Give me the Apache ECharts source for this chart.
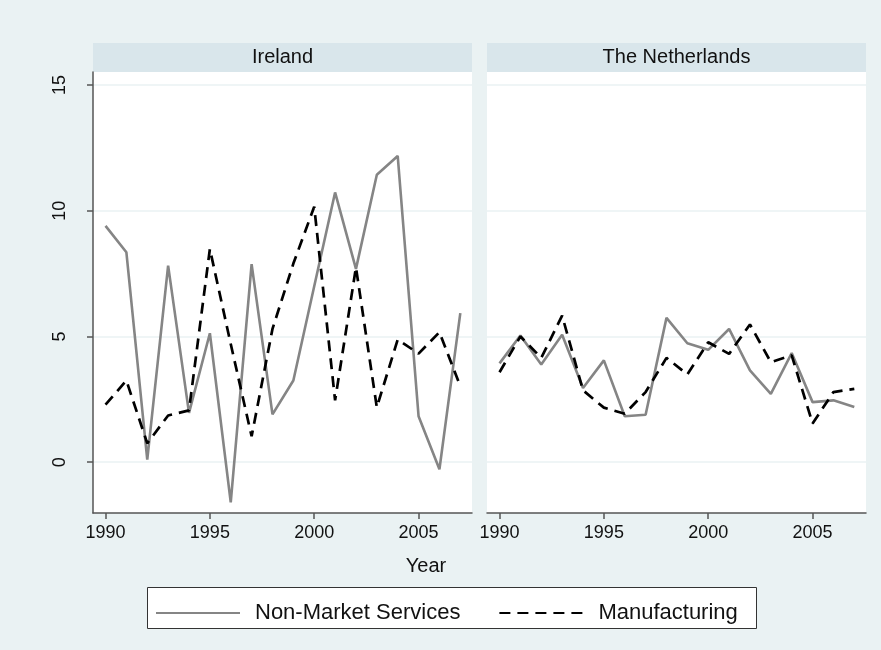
<!DOCTYPE html>
<html>
<head>
<meta charset="utf-8">
<script src="https://cdn.jsdelivr.net/npm/echarts@6/dist/echarts.min.js"></script>
<style>
  html, body { margin: 0; padding: 0; background: #EAF2F3; }
  #main { width: 881px; height: 650px; }
</style>
</head>
<body>
<div id="main"></div>
<script>
var years = [1990, 1991, 1992, 1993, 1994, 1995, 1996, 1997, 1998, 1999, 2000, 2001, 2002, 2003, 2004, 2005, 2006, 2007];
var panels = ["Ireland", "The Netherlands"];
var seriesNames = ["Non-Market Services", "Manufacturing"];

var ieNonMarket = [9.4, 8.35, 0.1, 7.82, 1.96, 5.13, -1.6, 7.88, 1.9, 3.25, 7.0, 10.73, 7.69, 11.43, 12.18, 1.83, -0.28, 5.93];
var ieManuf = [2.29, 3.25, 0.75, 1.86, 2.06, 8.48, 4.7, 1.03, 5.3, 7.9, 10.16, 2.46, 7.75, 2.18, 4.88, 4.32, 5.17, 3.02];
var nlNonMarket = [3.93, 5.04, 3.89, 5.07, 2.95, 4.05, 1.83, 1.89, 5.74, 4.73, 4.47, 5.3, 3.65, 2.72, 4.34, 2.39, 2.46, 2.2];
var nlManuf = [3.58, 5.0, 4.15, 5.83, 2.86, 2.17, 1.93, 2.79, 4.15, 3.49, 4.77, 4.31, 5.48, 3.98, 4.25, 1.54, 2.79, 2.92];

var xTicks = [1990, 1995, 2000, 2005];
var yTicks = [0, 5, 10, 15];

var font = "'Liberation Sans', Arial, sans-serif";
var bg = "#EAF2F3";
var stripColor = "#D9E6EB";
var axisColor = "#555";

function pairs(vals) {
  return years.map(function (y, i) { return [y, vals[i]]; });
}

var grids = [
  { left: 93, top: 72, width: 379, height: 441 },
  { left: 487, top: 72, width: 379, height: 441 }
];

var myChart = echarts.init(document.getElementById("main"));
var option = {
  backgroundColor: bg,
  animation: false,
  textStyle: { fontFamily: font },
  grid: grids.map(function (g) {
    return Object.assign({ show: true, backgroundColor: "#fff", borderWidth: 0 }, g);
  }),
  xAxis: [0, 1].map(function (i) {
    return {
      type: "value",
      gridIndex: i,
      min: 1989.4,
      max: 2007.56,
      axisLine: { show: true, onZero: false, lineStyle: { color: axisColor, width: 1.5 } },
      axisTick: { show: true, inside: false, length: 6, customValues: xTicks, lineStyle: { color: axisColor, width: 1.5 } },
      axisLabel: { customValues: xTicks, formatter: function (v) { return String(v); }, margin: 11, fontSize: 18, color: "#111", fontFamily: font },
      splitLine: { show: false }
    };
  }),
  yAxis: [0, 1].map(function (i) {
    return {
      type: "value",
      gridIndex: i,
      min: -2.02,
      max: 15.52,
      axisLine: { show: i === 0, lineStyle: { color: axisColor, width: 1.5 } },
      axisTick: { show: i === 0, length: 6, customValues: yTicks, lineStyle: { color: axisColor, width: 1.5 } },
      axisLabel: { show: i === 0, customValues: yTicks, rotate: 90, margin: 24, fontSize: 18, color: "#111", fontFamily: font },
      splitLine: { show: true, lineStyle: { color: bg, width: 1.5 } }
    };
  }),
  legend: {
    left: 150,
    top: 597,
    itemWidth: 84,
    itemHeight: 14,
    itemGap: 38,
    data: seriesNames,
    itemStyle: { color: "rgba(0,0,0,0)", borderWidth: 0 },
    textStyle: { fontSize: 22, color: "#111", fontFamily: font, padding: [0, 0, 0, 10] }
  },
  graphic: [
    { type: "rect", left: 147, top: 587, shape: { width: 609, height: 41 }, style: { fill: "#fff", stroke: "#333", lineWidth: 1 }, z: -1 },
    { type: "rect", left: 93, top: 43, shape: { width: 379, height: 29 }, style: { fill: stripColor } },
    { type: "rect", left: 487, top: 43, shape: { width: 379, height: 29 }, style: { fill: stripColor } },
    { type: "text", x: 282.5, y: 57.5, style: { text: panels[0], fontSize: 20, fontFamily: font, fill: "#111", align: "center", verticalAlign: "middle" } },
    { type: "text", x: 676.5, y: 57.5, style: { text: panels[1], fontSize: 20, fontFamily: font, fill: "#111", align: "center", verticalAlign: "middle" } },
    { type: "text", x: 426, y: 566, style: { text: "Year", fontSize: 20, fontFamily: font, fill: "#111", align: "center", verticalAlign: "middle" } }
  ],
  series: [
    { name: seriesNames[0], type: "line", xAxisIndex: 0, yAxisIndex: 0, data: pairs(ieNonMarket), symbol: "none", lineStyle: { color: "#858585", width: 2.6 }, itemStyle: { color: "#858585" } },
    { name: seriesNames[1], type: "line", xAxisIndex: 0, yAxisIndex: 0, data: pairs(ieManuf), symbol: "none", lineStyle: { color: "#000", width: 2.7, type: [11, 7] }, itemStyle: { color: "#000" } },
    { name: seriesNames[0], type: "line", xAxisIndex: 1, yAxisIndex: 1, data: pairs(nlNonMarket), symbol: "none", lineStyle: { color: "#858585", width: 2.6 }, itemStyle: { color: "#858585" } },
    { name: seriesNames[1], type: "line", xAxisIndex: 1, yAxisIndex: 1, data: pairs(nlManuf), symbol: "none", lineStyle: { color: "#000", width: 2.7, type: [11, 7] }, itemStyle: { color: "#000" } }
  ]
};
option && myChart.setOption(option);
</script>
</body>
</html>
